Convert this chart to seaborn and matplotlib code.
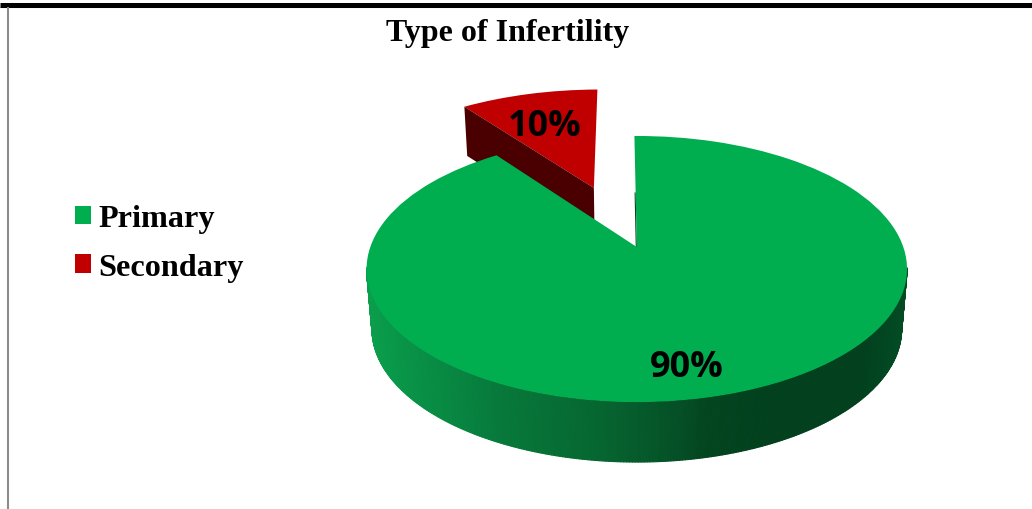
import numpy as np
import matplotlib
matplotlib.use("Agg")
import matplotlib.pyplot as plt
import seaborn as sns
from matplotlib.collections import PolyCollection
from matplotlib.colors import LinearSegmentedColormap
from matplotlib.patches import Polygon
from matplotlib.transforms import Transform

categories = ["Primary", "Secondary"]
values = [90, 10]
title = "Type of Infertility"

GREEN, RED = "#00AE50", "#C00000"
DARK_RED = "#4A0000"
CX, CY, K = 636.8, 248.0, 0.1654
AX, AY = 266.5, 129.4
DEPTH, SHRINK = 60.0, 0.98


def project(u, v, z=0.0):
    """Perspective view of the unit pie: z=0 is the top surface, z=1 the bottom."""
    u, v = np.asarray(u, float), np.asarray(v, float)
    d = 1 + K * v
    s = 1 - z * (1 - SHRINK)
    return CX + s * AX * u / d, CY - AY * v / d + z * DEPTH


class Perspective(Transform):
    input_dims = output_dims = 2
    has_inverse = False

    def transform_non_affine(self, values):
        x, y = project(values[:, 0], values[:, 1])
        return np.column_stack([x, y])


sns.set_theme(style="white")
fig = plt.figure(figsize=(10.32, 5.10), dpi=100, facecolor="white")
ax = fig.add_axes([0, 0, 1, 1])
palette = sns.color_palette([GREEN, RED])

START = 90.6
wedges, _, autotexts = ax.pie(
    values, colors=palette, startangle=START, counterclock=False,
    explode=[0, 0.54], autopct=lambda p: f"{p:.0f}%", wedgeprops={"linewidth": 0},
)
ax.set_aspect("auto")
ax.set_xlim(0, 1032)
ax.set_ylim(510, 0)
ax.set_frame_on(False)

persp = Perspective() + ax.transData
main, second = wedges
main.set_transform(persp)
second.set_transform(persp)
main.set_zorder(5)
second.set_zorder(3)
second.set_center((second.center[0] - 0.002, second.center[1] - 0.018))
second.set_radius(1.03)

# side wall of the large slice, shaded along the screen x position
shade = LinearSegmentedColormap.from_list("wall", [
    (0.00, "#0A9E4C"), (0.12, "#088C44"), (0.25, "#07783A"), (0.43, "#066630"),
    (0.58, "#054F26"), (0.62, "#03461F"), (0.75, "#02401E"), (0.92, "#02401E"),
    (1.00, "#024C24"),
])
angles = np.radians(np.linspace(189, 351, 300))
u, v = np.cos(angles), np.sin(angles)
xt, yt = project(u, v, 0)
xb, yb = project(u, v, 1)
quads = [[(xt[i], yt[i]), (xt[i + 1], yt[i + 1]), (xb[i + 1], yb[i + 1]), (xb[i], yb[i])]
         for i in range(len(angles) - 1)]
mids = (xt[:-1] + xt[1:]) / 2
cols = shade((mids - 367) / (908 - 367))
ax.add_collection(PolyCollection(quads, facecolors=cols, edgecolors=cols, linewidths=0.8, zorder=4))

# side wall along the left cut of the pulled-out slice
cx2, cy2 = second.center
th = np.radians(second.theta2 % 360)
r2 = second.r
tip, rim = (cx2, cy2), (cx2 + r2 * np.cos(th), cy2 + r2 * np.sin(th))
pts = [project(*tip, 0), project(*rim, 0), project(*rim, 0.82), project(*tip, 0.82)]
ax.add_patch(Polygon([(float(a), float(b)) for a, b in pts], closed=True,
                     facecolor=DARK_RED, edgecolor="none", zorder=3.5))

# dark sliver on the vertical cut of the large slice
cut = np.radians(START)
x0, y0 = project(0, 0)
x1, y1 = project(0.45 * np.cos(cut), 0.45 * np.sin(cut))
ax.plot([x0 - 0.5, x1 - 0.5], [y0, y1], color="#02401E", lw=0.8, zorder=4.5)

# percentage labels
label_xy = [(687, 368), (545, 127)]
for t, xy in zip(autotexts, label_xy):
    t.set_position(xy)
    t.set(family="Open Sans", fontweight="bold", fontsize=26, color="black",
          ha="center", va="center", zorder=8)

ax.text(507.5, 34, title, family="Liberation Serif", fontweight="bold", fontsize=23,
        color="black", ha="center", va="center", zorder=8)

ax.legend(
    wedges, categories, loc="upper left", bbox_to_anchor=(75, 205.5),
    bbox_transform=ax.transData, frameon=False, borderaxespad=0, borderpad=0,
    handlelength=0.5, handleheight=0.5, handletextpad=0.22, labelspacing=0.6,
    labelcolor="black",
    prop={"family": "Liberation Serif", "weight": "bold", "size": 23.2},
)

# page rules around the chart
ax.plot([0, 1032], [5.5, 5.5], color="black", lw=3.6, zorder=9, solid_capstyle="butt")
ax.plot([0, 1032], [8, 8], color="#9A9A9A", lw=0.8, zorder=8.5, solid_capstyle="butt")
ax.plot([8, 8], [8, 510], color="#8C8C8C", lw=1.5, zorder=9, solid_capstyle="butt")

fig.savefig("out.png", dpi=100, facecolor="white")
